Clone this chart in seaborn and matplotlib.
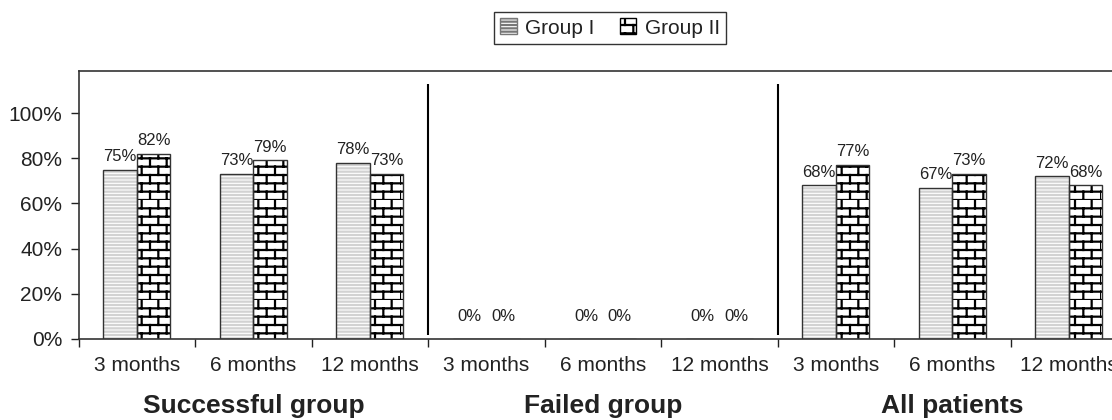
import warnings
import numpy as np
import pandas as pd
import matplotlib
matplotlib.use('Agg')
import matplotlib.pyplot as plt
from matplotlib import hatch as mhatch
from matplotlib.path import Path
from matplotlib.patches import Patch, Rectangle
from matplotlib.transforms import blended_transform_factory
import seaborn as sns

warnings.filterwarnings('ignore')

segments = ['Successful group', 'Failed group', 'All patients']
periods = ['3 months', '6 months', '12 months']
groups = ['Group I', 'Group II']
group1 = [75, 73, 78, 0, 0, 0, 68, 67, 72]
group2 = [82, 79, 73, 0, 0, 0, 77, 73, 68]


# brick hatch ('b'), not part of matplotlib's hatch set
class BrickHatch(mhatch.HatchPatternBase):
    rows, cols = 12, 6

    def __init__(self, hatch, density):
        n = hatch.count('b') if hatch else 0
        self.num_vertices = (self.rows + self.rows * self.cols) * 2 if n else 0

    def set_vertices_and_codes(self, vertices, codes):
        h = 1.0 / self.rows
        w = 1.0 / self.cols
        segs = []
        for i in range(self.rows):
            y = i * h
            segs.append(((0, y), (1, y)))
            off = 0 if i % 2 == 0 else w / 2
            for j in range(self.cols):
                x = j * w + off
                segs.append(((x, y), (x, y + h)))
        vertices[:] = np.array(segs, dtype=float).reshape(-1, 2)
        codes[0::2] = Path.MOVETO
        codes[1::2] = Path.LINETO


mhatch._hatch_types.append(BrickHatch)

sns.set_style('ticks')
plt.rcParams['font.family'] = ['Liberation Sans', 'DejaVu Sans']
plt.rcParams['hatch.linewidth'] = 1.6
plt.rcParams['text.color'] = '#222222'
plt.rcParams['xtick.color'] = '#222222'
plt.rcParams['ytick.color'] = '#222222'

keys = [f'{s}|{p}' for s in segments for p in periods]
df = pd.DataFrame({
    'key': keys * 2,
    'group': [groups[0]] * len(keys) + [groups[1]] * len(keys),
    'value': np.array(group1 + group2) / 100,
})

fig = plt.figure(figsize=(11.12, 4.2), dpi=100)
ax = fig.add_axes([78.7 / 1112, 81 / 420, 9 * 116.5 / 1112, 268 / 420])

sns.barplot(data=df, x='key', y='value', hue='group', order=keys, hue_order=groups,
            palette=['white', 'white'], saturation=1, width=0.575, gap=0,
            errorbar=None, legend=False, ax=ax)

styles = [('-----', '#d2d2d2'), ('b', 'black')]
for cont, (hatch, hc) in zip(ax.containers[:2], styles):
    for bar in cont:
        bar.set_hatch(hatch)
        bar.set_edgecolor(hc)
        bar.set_linewidth(0)
        ax.add_patch(Rectangle(bar.get_xy(), bar.get_width(), bar.get_height(),
                               fill=False, edgecolor='#333333', linewidth=1, zorder=3))
        v = bar.get_height()
        ax.annotate(f'{v:.0%}', (bar.get_x() + bar.get_width() / 2, v),
                    xytext=(0, 11 if v == 0 else 4), textcoords='offset points',
                    ha='center', va='bottom', fontsize=12)

ax.set_xlim(-0.5, 8.5)
ax.set_ylim(0, 1.186)
yt = [0, 0.2, 0.4, 0.6, 0.8, 1.0]
ax.set_yticks(yt)
ax.set_yticklabels([f'{t:.0%}' for t in yt], fontsize=15)
ax.tick_params(axis='y', length=6, width=1, pad=6)
ax.set_xticks(range(len(keys)))
ax.set_xticklabels(periods * len(segments), fontsize=15)
ax.set_xticks(np.arange(-0.5, len(keys), 1), minor=True)
ax.tick_params(axis='x', which='major', length=0, pad=12)
ax.tick_params(axis='x', which='minor', length=6, width=1)
ax.set_xlabel('')
ax.set_ylabel('')

for side in ['left', 'bottom', 'top']:
    ax.spines[side].set_color('#333333')
    ax.spines[side].set_linewidth(1.2)
ax.spines['top'].set_visible(True)
ax.spines['right'].set_visible(False)

# separators between the three panels
ax.vlines([2.5, 5.5], 0.018, 1.13, color='black', linewidth=1.5)

trans = blended_transform_factory(ax.transData, ax.transAxes)
for k, seg in enumerate(segments):
    ax.text(1 + 3 * k, -0.25, seg, transform=trans, ha='center', va='center',
            fontsize=19, fontweight='bold')

handles = [Patch(facecolor='white', edgecolor='#777777', hatch='-----'),
           Patch(facecolor='white', edgecolor='black', hatch='b')]
leg = fig.legend(handles=handles, labels=groups, loc='center',
                 bbox_to_anchor=(610 / 1112, 1 - 28 / 420), ncol=2, frameon=True,
                 fancybox=False, edgecolor='black', fontsize=15, handlelength=0.8,
                 handleheight=0.8, handletextpad=0.4, columnspacing=1.2, borderpad=0.3)
leg.get_frame().set_linewidth(1)

fig.savefig('out.png', dpi=100)
